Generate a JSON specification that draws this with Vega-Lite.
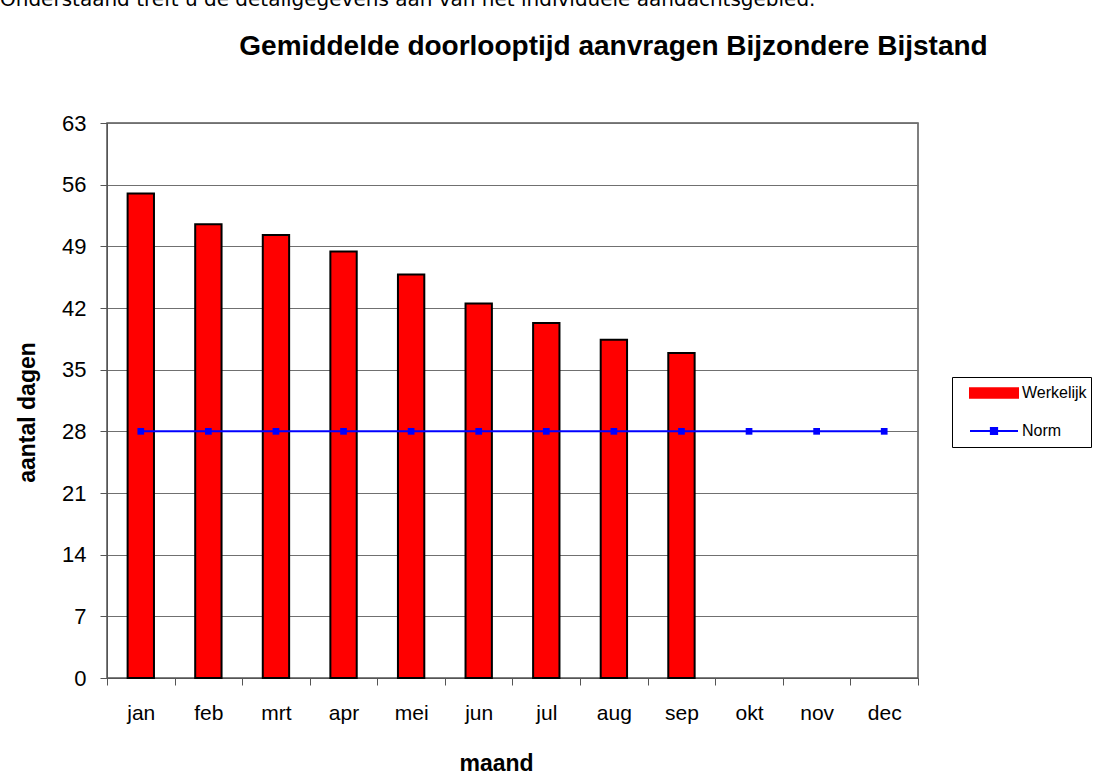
{
  "$schema": "https://vega.github.io/schema/vega-lite/v6.json",
  "width": 811,
  "height": 555,
  "autosize": {"type": "none"},
  "padding": {"left": 107, "top": 123, "right": 187, "bottom": 98},
  "background": "white",
  "title": {
    "text": "Onderstaand treft u de detailgegevens aan van het individuele aandachtsgebied.",
    "font": "DejaVu Sans",
    "fontSize": 20,
    "fontWeight": "normal",
    "color": "black",
    "anchor": "start",
    "frame": "group",
    "dx": -107,
    "offset": 6,
    "baseline": "alphabetic"
  },
  "datasets": {
    "werkelijk": [
      {"maand": "jan", "serie": "Werkelijk", "dagen": 55},
      {"maand": "feb", "serie": "Werkelijk", "dagen": 51.5},
      {"maand": "mrt", "serie": "Werkelijk", "dagen": 50.3},
      {"maand": "apr", "serie": "Werkelijk", "dagen": 48.4},
      {"maand": "mei", "serie": "Werkelijk", "dagen": 45.8},
      {"maand": "jun", "serie": "Werkelijk", "dagen": 42.5},
      {"maand": "jul", "serie": "Werkelijk", "dagen": 40.3},
      {"maand": "aug", "serie": "Werkelijk", "dagen": 38.4},
      {"maand": "sep", "serie": "Werkelijk", "dagen": 36.9}
    ],
    "norm": [
      {"maand": "jan", "serie": "Norm", "dagen": 28},
      {"maand": "feb", "serie": "Norm", "dagen": 28},
      {"maand": "mrt", "serie": "Norm", "dagen": 28},
      {"maand": "apr", "serie": "Norm", "dagen": 28},
      {"maand": "mei", "serie": "Norm", "dagen": 28},
      {"maand": "jun", "serie": "Norm", "dagen": 28},
      {"maand": "jul", "serie": "Norm", "dagen": 28},
      {"maand": "aug", "serie": "Norm", "dagen": 28},
      {"maand": "sep", "serie": "Norm", "dagen": 28},
      {"maand": "okt", "serie": "Norm", "dagen": 28},
      {"maand": "nov", "serie": "Norm", "dagen": 28},
      {"maand": "dec", "serie": "Norm", "dagen": 28}
    ]
  },
  "layer": [
    {
      "data": {"name": "werkelijk"},
      "mark": {"type": "bar", "stroke": "black", "strokeWidth": 2, "width": {"band": 0.39}},
      "encoding": {
        "x": {
          "field": "maand", "type": "nominal", "sort": null,
          "scale": {"domain": ["jan","feb","mrt","apr","mei","jun","jul","aug","sep","okt","nov","dec"], "paddingInner": 0, "paddingOuter": 0},
          "axis": {
            "orient": "bottom", "title": "maand", "labelAngle": 0, "tickBand": "extent",
            "tickSize": 7, "tickColor": "#555555", "domainColor": "#555555", "grid": false,
            "labelFont": "Liberation Sans", "labelFontSize": 21, "labelColor": "black",
            "labelPadding": 28, "labelBaseline": "middle",
            "titleFont": "Liberation Sans", "titleFontSize": 23, "titleFontWeight": "bold", "titleColor": "black",
            "titleX": 389, "titleY": 92, "titleBaseline": "alphabetic", "titleAlign": "center"
          }
        },
        "y": {
          "field": "dagen", "type": "quantitative",
          "scale": {"domain": [0, 63], "nice": false, "zero": true},
          "axis": {
            "values": [0, 7, 14, 21, 28, 35, 42, 49, 56, 63],
            "title": "aantal dagen", "tickSize": 7, "tickColor": "#555555", "domainColor": "#555555",
            "grid": true, "gridColor": "#707070", "gridWidth": 1.2,
            "labelFont": "Liberation Sans", "labelFontSize": 22, "labelColor": "black", "labelPadding": 14,
            "titleFont": "Liberation Sans", "titleFontSize": 23, "titleFontWeight": "bold", "titleColor": "black",
            "titleX": -73, "titleY": 289, "titleBaseline": "alphabetic", "titleAngle": -90, "titleAlign": "center"
          }
        },
        "color": {
          "field": "serie", "type": "nominal",
          "scale": {"domain": ["Werkelijk", "Norm"], "range": ["#ff0000", "#0000ff"]},
          "legend": {
            "orient": "none", "legendX": 845, "legendY": 254, "title": null,
            "strokeColor": "black", "fillColor": "white", "padding": 4,
            "labelFont": "Liberation Sans", "labelFontSize": 16, "labelColor": "black",
            "symbolSize": 2304, "symbolOffset": 13, "labelOffset": 3,
            "clipHeight": 24, "rowPadding": 14,
            "encode": {
              "symbols": {
                "update": {
                  "shape": {"signal": "datum.value === 'Werkelijk' ? 'M-1,-0.2H1V0.2H-1Z' : 'M-1,0H1M-0.13,-0.13H0.13V0.13H-0.13Z'"},
                  "fill": {"signal": "datum.value === 'Werkelijk' ? '#ff0000' : '#0000ff'"},
                  "stroke": {"signal": "datum.value === 'Werkelijk' ? '#000000' : '#0000ff'"},
                  "strokeWidth": {"value": 2},
                  "opacity": {"value": 1},
                  "fillOpacity": {"value": 1}
                }
              }
            }
          }
        }
      }
    },
    {
      "data": {"name": "norm"},
      "mark": {"type": "line", "strokeWidth": 2, "point": {"shape": "square", "size": 45, "filled": true, "opacity": 1}},
      "encoding": {
        "x": {
          "field": "maand", "type": "nominal", "sort": null,
          "axis": {
            "orient": "top", "title": "Gemiddelde doorlooptijd aanvragen Bijzondere Bijstand",
            "labels": false, "ticks": false, "domain": false, "grid": false,
            "titleFont": "Liberation Sans", "titleFontSize": 28, "titleFontWeight": "bold", "titleColor": "black",
            "titleX": 506, "titleY": -69, "titleBaseline": "alphabetic", "titleAlign": "center"
          }
        },
        "y": {"field": "dagen", "type": "quantitative"},
        "color": {
          "field": "serie", "type": "nominal",
          "legend": {
            "orient": "none", "legendX": 845, "legendY": 254, "title": null,
            "strokeColor": "black", "fillColor": "white", "padding": 4,
            "labelFont": "Liberation Sans", "labelFontSize": 16, "labelColor": "black",
            "symbolSize": 2304, "symbolOffset": 13, "labelOffset": 3,
            "clipHeight": 24, "rowPadding": 14,
            "encode": {
              "symbols": {
                "update": {
                  "shape": {"signal": "datum.value === 'Werkelijk' ? 'M-1,-0.2H1V0.2H-1Z' : 'M-1,0H1M-0.13,-0.13H0.13V0.13H-0.13Z'"},
                  "fill": {"signal": "datum.value === 'Werkelijk' ? '#ff0000' : '#0000ff'"},
                  "stroke": {"signal": "datum.value === 'Werkelijk' ? '#000000' : '#0000ff'"},
                  "strokeWidth": {"value": 2},
                  "opacity": {"value": 1},
                  "fillOpacity": {"value": 1}
                }
              }
            }
          }
        }
      }
    }
  ],
  "resolve": {"axis": {"x": "independent"}},
  "config": {
    "view": {"stroke": "#555555", "strokeWidth": 1.5}
  }
}
